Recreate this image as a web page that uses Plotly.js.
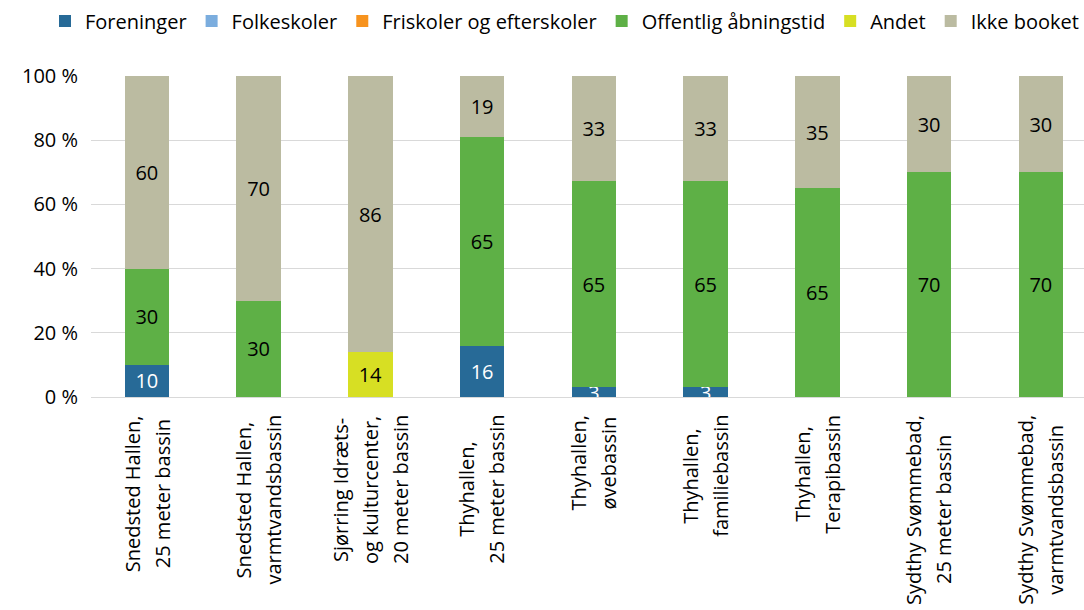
<!DOCTYPE html>
<html>
<head>
<meta charset="utf-8">
<script src="https://cdn.plot.ly/plotly-3.0.1.min.js"></script>
<style>
  html, body { margin: 0; padding: 0; background: #fff; }
  #container { width: 1084px; height: 610px; }
</style>
</head>
<body>
<div id="container"></div>
<script>
const categories = [
    "Snedsted Hallen, 25 meter bassin",
    "Snedsted Hallen, varmtvandsbassin",
    "Sjørring Idræts- og kulturcenter, 20 meter bassin",
    "Thyhallen, 25 meter bassin",
    "Thyhallen, øvebassin",
    "Thyhallen, familiebassin",
    "Thyhallen, Terapibassin",
    "Sydthy Svømmebad, 25 meter bassin",
    "Sydthy Svømmebad, varmtvandsbassin"
];

const labelLines = [
    ["Snedsted Hallen,", "25 meter bassin"],
    ["Snedsted Hallen,", "varmtvandsbassin"],
    ["Sjørring Idræts-", "og kulturcenter,", "20 meter bassin"],
    ["Thyhallen,", "25 meter bassin"],
    ["Thyhallen,", "øvebassin"],
    ["Thyhallen,", "familiebassin"],
    ["Thyhallen,", "Terapibassin"],
    ["Sydthy Svømmebad,", "25 meter bassin"],
    ["Sydthy Svømmebad,", "varmtvandsbassin"]
];

const foreninger  = [10, 0, 0, 16, 3, 3, 0, 0, 0];
const folkeskoler = [0, 0, 0, 0, 0, 0, 0, 0, 0];
const friskoler   = [0, 0, 0, 0, 0, 0, 0, 0, 0];
const offentlig   = [30, 30, 0, 65, 65, 65, 65, 70, 70];
const andet       = [0, 0, 14, 0, 0, 0, 0, 0, 0];
const ikkeBooket  = [60, 70, 86, 19, 33, 33, 35, 30, 30];

const FS = 20;

const series = [
    { name: "Foreninger", values: foreninger, color: "#276a97", text: "#ffffff" },
    { name: "Folkeskoler", values: folkeskoler, color: "#7badde", text: "#000000" },
    { name: "Friskoler og efterskoler", values: friskoler, color: "#f7931e", text: "#000000" },
    { name: "Offentlig åbningstid", values: offentlig, color: "#5eb046", text: "#000000" },
    { name: "Andet", values: andet, color: "#d7df23", text: "#000000" },
    { name: "Ikke booket", values: ikkeBooket, color: "#bbbba1", text: "#000000" }
];

const traces = series.map(s => ({
    type: "bar",
    name: s.name,
    x: categories,
    y: s.values,
    text: s.values.map(v => v ? String(v) : ""),
    textposition: "inside",
    insidetextanchor: "middle",
    constraintext: "none",
    textangle: 0,
    textfont: { family: "Open Sans", size: FS, color: s.text },
    marker: { color: s.color },
    hoverinfo: "skip"
}));

// category labels: centred multi-line rotated text, like the original
const ctx = document.createElement("canvas").getContext("2d");
ctx.font = FS + 'px "Open Sans"';
const annotations = [];
labelLines.forEach((lines, i) => {
    const maxW = Math.max(...lines.map(s => ctx.measureText(s).width));
    lines.forEach((s, j) => {
        annotations.push({
            x: categories[i], xref: "x",
            y: 0, yref: "paper",
            text: s,
            showarrow: false,
            textangle: -90,
            xanchor: "center", yanchor: "middle",
            xshift: (j - (lines.length - 1) / 2) * 30,
            yshift: -(18 + maxW / 2),
            font: { family: "Open Sans", size: FS, color: "#000" }
        });
    });
});

const layout = {
    width: 1084,
    height: 610,
    margin: { t: 76, r: 0, b: 213, l: 91 },
    paper_bgcolor: "#fff",
    plot_bgcolor: "#fff",
    font: { family: "Open Sans", size: FS, color: "#000" },
    barmode: "stack",
    barnorm: "percent",
    bargap: 0.6,
    showlegend: true,
    legend: {
        orientation: "h",
        traceorder: "normal",
        x: -0.045, xanchor: "left",
        y: 1.232, yanchor: "top",
        font: { family: "Open Sans", size: FS, color: "#000" }
    },
    xaxis: {
        type: "category",
        range: [-0.5, 8.386],
        showticklabels: false,
        showgrid: false,
        zeroline: false,
        showline: false,
        ticks: ""
    },
    yaxis: {
        range: [0, 100],
        dtick: 20,
        ticksuffix: " %",
        showgrid: true,
        gridcolor: "#d9d9d9",
        gridwidth: 1,
        zeroline: true,
        zerolinecolor: "#d9d9d9",
        zerolinewidth: 1,
        showline: false,
        ticks: "",
        ticklabelstandoff: 12,
        tickfont: { family: "Open Sans", size: FS, color: "#000" }
    },
    annotations: annotations,
    hovermode: false
};

Plotly.newPlot("container", traces, layout, { displayModeBar: false, staticPlot: true });
</script>
</body>
</html>
